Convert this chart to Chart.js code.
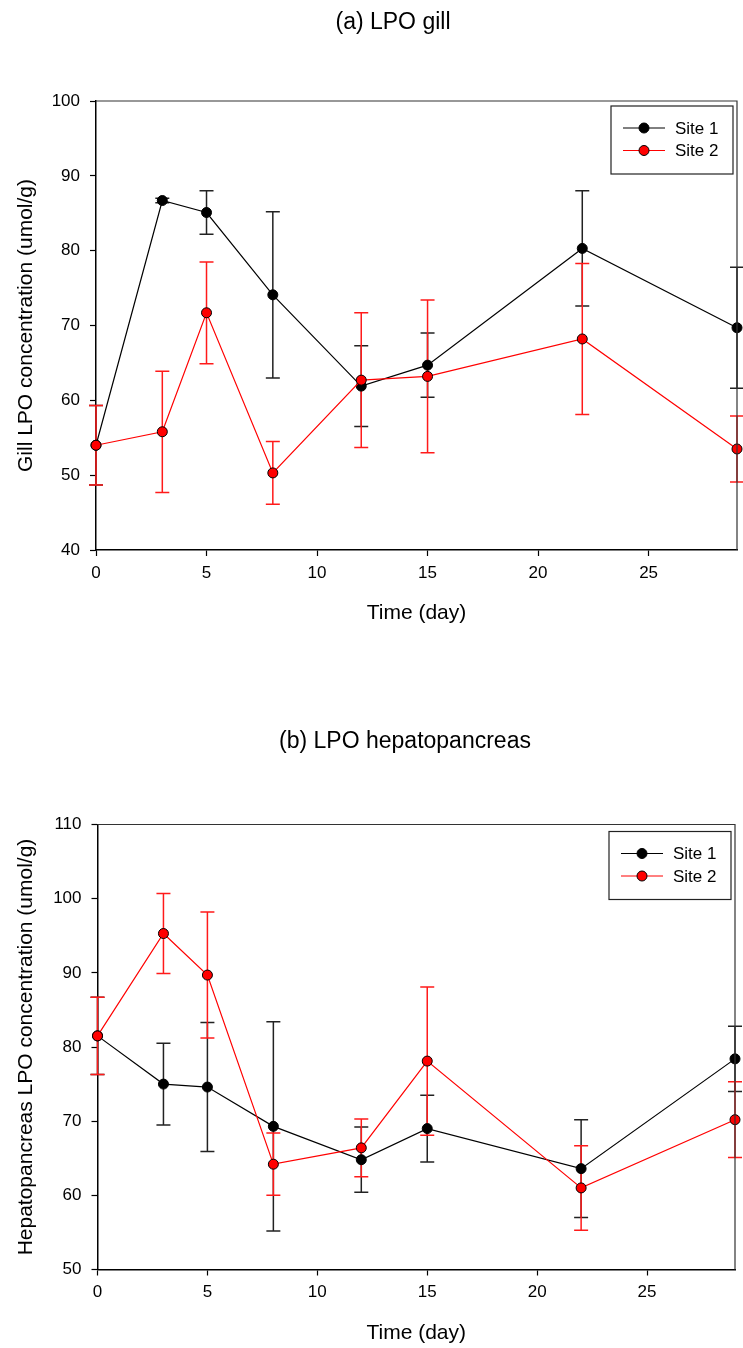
<!DOCTYPE html>
<html>
<head>
<meta charset="utf-8">
<script src="https://cdn.jsdelivr.net/npm/chart.js@4.4.1/dist/chart.umd.min.js"></script>
<style>
  body { margin: 0; background: #fff; }
  #wrap { position: relative; width: 743px; height: 1348px; }
  canvas { position: absolute; left: 0; }
</style>
</head>
<body>
<div id="wrap">
  <canvas id="chartGill" width="743" height="680" style="top:0"></canvas>
  <canvas id="chartHep" width="743" height="668" style="top:680px"></canvas>
</div>
<script>
'use strict'

// sampling days
var days = [0, 3, 5, 8, 12, 15, 22, 29];
var seriesNames = ['Site 1', 'Site 2'];

// (a) gill LPO, mean and error
var gillSite1 = [54.0, 86.7, 85.1, 74.1, 61.9, 64.7, 80.3, 69.7];
var gillSite1Err = [5.3, 0.3, 2.9, 11.1, 5.4, 4.3, 7.7, 8.1];
var gillSite2 = [54.0, 55.8, 71.7, 50.3, 62.7, 63.2, 68.2, 53.5];
var gillSite2Err = [5.3, 8.1, 6.8, 4.2, 9.0, 10.2, 10.1, 4.4];

// (b) hepatopancreas LPO, mean and error
var hepSite1 = [81.5, 75.0, 74.6, 69.3, 64.8, 69.0, 63.6, 78.4];
var hepSite1Err = [5.2, 5.5, 8.7, 14.1, 4.4, 4.5, 6.6, 4.4];
var hepSite2 = [81.5, 95.3, 89.7, 64.2, 66.4, 78.1, 61.0, 70.2];
var hepSite2Err = [5.2, 5.4, 8.5, 4.2, 3.9, 10.0, 5.7, 5.1];

var xTicks = [0, 5, 10, 15, 20, 25];

var FONT = "'Liberation Sans', Arial, sans-serif";

function toPoints(vals) {
    return vals.map(function (v, i) { return { x: days[i], y: v }; });
}

// vertical error bars with caps, drawn through the chart scales
var errorBars = {
    id: 'errorBars',
    beforeDatasetsDraw: function (chart) {
        var ctx = chart.ctx, sx = chart.scales.x, sy = chart.scales.y;
        chart.data.datasets.forEach(function (ds) {
            ctx.save();
            ctx.strokeStyle = ds.errColor;
            ctx.lineWidth = 1.5;
            ds.data.forEach(function (p, i) {
                var e = ds.errors[i];
                if (!e) return;
                var px = sx.getPixelForValue(p.x);
                var top = sy.getPixelForValue(p.y + e);
                var bot = sy.getPixelForValue(p.y - e);
                ctx.beginPath();
                ctx.moveTo(px, top); ctx.lineTo(px, bot);
                ctx.moveTo(px - 7, top); ctx.lineTo(px + 7, top);
                ctx.moveTo(px - 7, bot); ctx.lineTo(px + 7, bot);
                ctx.stroke();
            });
            ctx.restore();
        });
    }
};

// top + right frame lines, panel title, boxed legend
var decor = {
    id: 'decor',
    afterDraw: function (chart, args, opts) {
        var ctx = chart.ctx, a = chart.chartArea;
        ctx.save();
        ctx.strokeStyle = '#333';
        ctx.lineWidth = 1.2;
        ctx.beginPath();
        ctx.moveTo(a.left, a.top); ctx.lineTo(a.right, a.top); ctx.lineTo(a.right, a.bottom);
        ctx.stroke();

        ctx.fillStyle = '#000';
        ctx.font = '23px ' + FONT;
        ctx.textAlign = 'center';
        ctx.textBaseline = 'middle';
        ctx.fillText(opts.title, opts.titleX, opts.titleY);

        // legend
        var bw = 122, bh = 68;
        var bx = a.right - 4 - bw, by = a.top + opts.legendTop;
        ctx.fillStyle = '#fff';
        ctx.fillRect(bx, by, bw, bh);
        ctx.strokeStyle = '#222';
        ctx.lineWidth = 1.2;
        ctx.strokeRect(bx, by, bw, bh);
        ctx.font = '17px ' + FONT;
        ctx.textAlign = 'left';
        chart.data.datasets.forEach(function (ds, i) {
            var ly = by + 22 + i * 22.5;
            ctx.strokeStyle = ds.borderColor;
            ctx.lineWidth = 1;
            ctx.beginPath();
            ctx.moveTo(bx + 12, ly); ctx.lineTo(bx + 54, ly);
            ctx.stroke();
            ctx.beginPath();
            ctx.arc(bx + 33, ly, 5, 0, Math.PI * 2);
            ctx.fillStyle = ds.pointBackgroundColor;
            ctx.fill();
            ctx.strokeStyle = '#000';
            ctx.stroke();
            ctx.fillStyle = '#000';
            ctx.fillText(ds.label, bx + 64, ly + 1);
        });
        ctx.restore();
    }
};

function makeChart(id, s1, e1, s2, e2, yMin, yMax, yTitle, cfg) {
    var ctx = document.getElementById(id);
    return new Chart(ctx, {
        type: 'line',
        data: {
            datasets: [
                {
                    label: seriesNames[0],
                    data: toPoints(s1),
                    errors: e1,
                    errColor: '#222',
                    borderColor: '#000',
                    borderWidth: 1.2,
                    pointBackgroundColor: '#000',
                    pointBorderColor: '#000',
                    pointBorderWidth: 1,
                    pointRadius: 5,
                    tension: 0,
                    fill: false,
                    clip: false,
                    order: 1
                },
                {
                    label: seriesNames[1],
                    data: toPoints(s2),
                    errors: e2,
                    errColor: '#ff1a1a',
                    borderColor: '#ff0000',
                    borderWidth: 1.2,
                    pointBackgroundColor: '#ff0000',
                    pointBorderColor: '#000',
                    pointBorderWidth: 1,
                    pointRadius: 5,
                    tension: 0,
                    fill: false,
                    clip: false,
                    order: 0
                }
            ]
        },
        options: {
            responsive: false,
            animation: false,
            layout: { padding: { top: cfg.padTop, left: 0, right: cfg.padRight, bottom: 0 } },
            plugins: {
                legend: { display: false },
                tooltip: { enabled: false },
                decor: { title: cfg.title, titleX: cfg.titleX, titleY: cfg.titleY, legendTop: cfg.legendTop }
            },
            scales: {
                x: {
                    type: 'linear',
                    min: 0,
                    max: 29,
                    afterBuildTicks: function (scale) {
                        scale.ticks = xTicks.map(function (v) { return { value: v }; });
                    },
                    afterFit: function (scale) { scale.height = cfg.xHeight; },
                    ticks: { color: '#000', font: { family: FONT, size: 17 }, padding: 7, maxRotation: 0 },
                    grid: { display: true, drawOnChartArea: false, drawTicks: true, tickLength: 6, color: '#000', tickWidth: 1.2 },
                    border: { display: true, color: '#000', width: 1.5 },
                    title: { display: true, text: 'Time (day)', color: '#000', font: { family: FONT, size: 21 }, padding: { top: 0, bottom: cfg.xTitlePad } }
                },
                y: {
                    min: yMin,
                    max: yMax,
                    afterFit: function (scale) { scale.width = cfg.yWidth; },
                    ticks: { stepSize: 10, color: '#000', font: { family: FONT, size: 17 }, padding: 10 },
                    grid: { display: true, drawOnChartArea: false, drawTicks: true, tickLength: 6, color: '#000', tickWidth: 1.2 },
                    border: { display: true, color: '#000', width: 1.5 },
                    title: { display: true, text: yTitle, color: '#000', font: { family: FONT, size: 21 }, padding: { top: 14, bottom: 0 } }
                }
            }
        },
        plugins: [errorBars, decor]
    });
}

makeChart('chartGill', gillSite1, gillSite1Err, gillSite2, gillSite2Err, 40, 100,
    'Gill LPO concentration (umol/g)',
    { padTop: 101, padRight: 6, xHeight: 130, xTitlePad: 54, yWidth: 96,
      title: '(a) LPO gill', titleX: 393, titleY: 23, legendTop: 5 });

makeChart('chartHep', hepSite1, hepSite1Err, hepSite2, hepSite2Err, 50, 110,
    'Hepatopancreas LPO concentration (umol/g)',
    { padTop: 144.5, padRight: 8, xHeight: 78.5, xTitlePad: 2, yWidth: 97.5,
      title: '(b) LPO hepatopancreas', titleX: 405, titleY: 61.5, legendTop: 7 });
</script>
</body>
</html>
